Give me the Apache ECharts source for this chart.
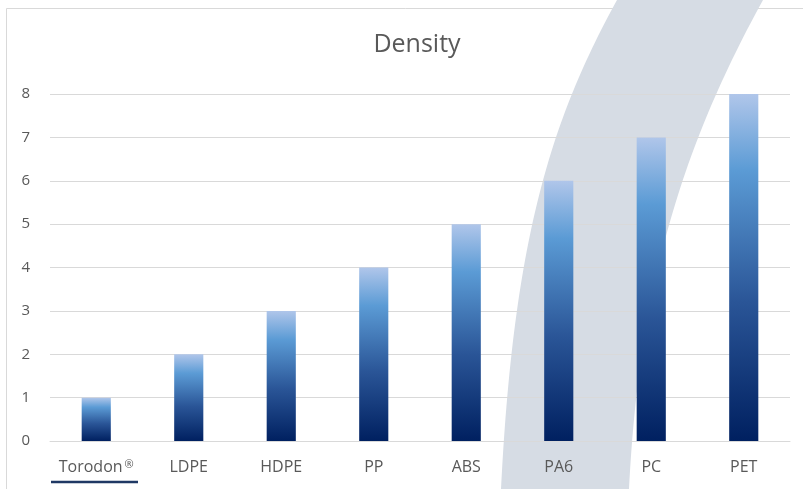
<!DOCTYPE html>
<html>
<head>
<meta charset="utf-8">
<script src="https://cdn.jsdelivr.net/npm/echarts@6/dist/echarts.min.js"></script>
<style>
html,body{margin:0;padding:0;background:#fff;}
#chart{width:803px;height:489px;}
</style>
</head>
<body>
<div id="chart"></div>
<script>
const categories = ['Torodon®', 'LDPE', 'HDPE', 'PP', 'ABS', 'PA6', 'PC', 'PET'];
const densityValues = [1, 2, 3, 4, 5, 6, 7, 8];
const yTicks = [0, 1, 2, 3, 4, 5, 6, 7, 8];
const titleText = 'Density';

const chart = echarts.init(document.getElementById('chart'), null, {renderer: 'canvas'});

// decorative background band (not data): two cubic curves sampled into a polygon
function cubic(p0, p1, p2, p3, n) {
  const pts = [];
  for (let i = 0; i <= n; i++) {
    const t = i / n, u = 1 - t;
    pts.push([
      u*u*u*p0[0] + 3*u*u*t*p1[0] + 3*u*t*t*p2[0] + t*t*t*p3[0],
      u*u*u*p0[1] + 3*u*u*t*p1[1] + 3*u*t*t*p2[1] + t*t*t*p3[1]
    ]);
  }
  return pts;
}
const bandPoints = [[620,-6]]
  .concat(cubic([617,0],[551,120],[513.5,239],[501,489], 60))
  .concat([[501,496],[629,496]])
  .concat(cubic([629,489],[639,289],[680.5,150],[763,0], 60))
  .concat([[766,-6]]);

const FONT = 'Open Sans';

chart.setOption({
  backgroundColor: '#ffffff',
  animation: false,
  title: {
    text: titleText,
    left: 412,
    textAlign: 'center',
    top: 27,
    textStyle: {fontFamily: FONT, fontSize: 25, fontWeight: 'normal', color: '#595959'}
  },
  graphic: [
    {
      type: 'rect', z: 0, silent: true,
      shape: {x: 6.5, y: 8.5, width: 900, height: 600},
      style: {fill: 'none', stroke: '#d9d9d9', lineWidth: 1}
    },
    {
      type: 'polygon', z: 0, silent: true,
      shape: {points: bandPoints},
      style: {fill: '#d6dce4', stroke: 'none'}
    },
    {
      type: 'line', z: 10, silent: true,
      shape: {x1: 51, y1: 482, x2: 138, y2: 482},
      style: {stroke: '#1f3864', lineWidth: 2.5}
    }
  ],
  grid: {left: 50, right: 13, top: 94, bottom: 48, containLabel: false},
  xAxis: {
    type: 'category',
    z: 1,
    data: categories,
    axisLine: {show: true, lineStyle: {color: '#d9d9d9', width: 1}},
    axisTick: {show: false},
    axisLabel: {
      fontFamily: FONT, fontSize: 16, color: '#595959', margin: 18,
      interval: 0,
      formatter: function (v) {
        if (v.slice(-1) === '®') return '{a|' + v.slice(0, -1) + '}{s|®}';
        return '{a|' + v + '}';
      },
      rich: {
        a: {fontFamily: FONT, fontSize: 16, color: '#595959'},
        s: {fontFamily: FONT, fontSize: 11, color: '#595959', verticalAlign: 'top', padding: [0, 0, 0, 2]}
      }
    }
  },
  yAxis: {
    type: 'value',
    z: 1,
    min: 0, max: 8, interval: 1,
    axisLine: {show: false},
    axisTick: {show: false},
    splitLine: {lineStyle: {color: '#d9d9d9', width: 1}},
    axisLabel: {
      fontFamily: FONT, fontSize: 15, color: '#595959', margin: 20,
      formatter: function (v) { return yTicks.indexOf(v) >= 0 ? String(v) : ''; }
    }
  },
  series: [{
    type: 'bar',
    z: 3,
    data: densityValues,
    barWidth: '31.5%',
    itemStyle: {
      color: new echarts.graphic.LinearGradient(0, 0, 0, 1, [
        {offset: 0, color: '#b0c6ea'},
        {offset: 0.22, color: '#5b9bd5'},
        {offset: 0.6, color: '#2a5597'},
        {offset: 1, color: '#002060'}
      ])
    }
  }]
});
</script>
</body>
</html>
